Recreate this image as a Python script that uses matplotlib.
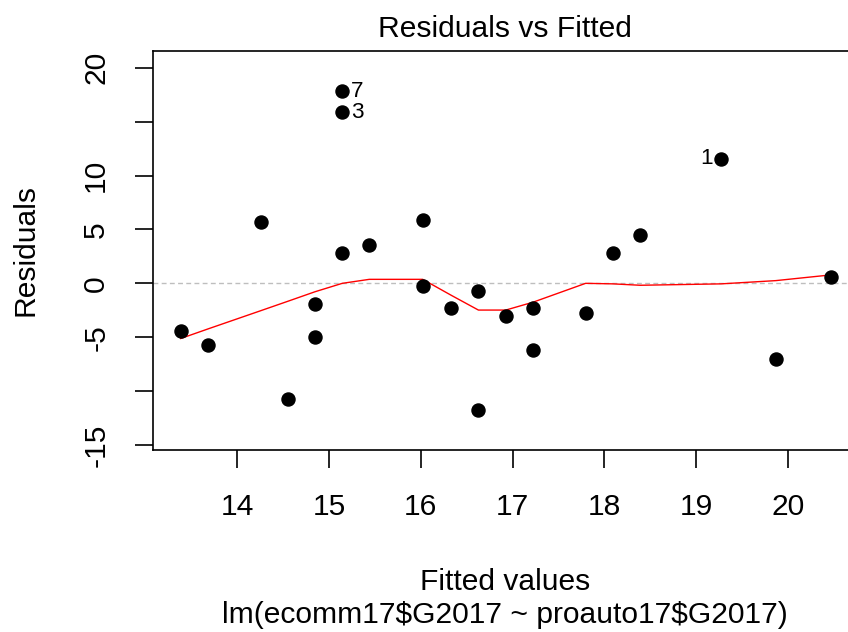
import matplotlib
matplotlib.use("Agg")
import matplotlib.pyplot as plt

plt.rcParams['font.family'] = ['Liberation Sans', 'DejaVu Sans']
plt.rcParams['axes.unicode_minus'] = False

# fitted values and residuals
fitted = [13.383, 13.684, 14.255, 14.549, 14.847, 14.847, 15.144, 15.144,
          15.144, 15.438, 16.020, 16.020, 16.333, 16.627, 16.627, 16.925,
          17.222, 17.222, 17.795, 18.093, 18.390, 19.270, 19.865, 20.465]
resid = [-4.44, -5.74, 5.73, -10.70, -1.95, -5.02, 17.82, 15.87,
         2.85, 3.56, 5.89, -0.22, -2.33, -0.69, -11.79, -3.04,
         -2.33, -6.20, -2.79, 2.85, 4.47, 11.56, -6.98, 0.56]

# smoother (red line) vertices
smooth_x = [13.383, 13.684, 14.255, 14.549, 14.847, 15.144, 15.438, 16.020,
            16.333, 16.627, 16.925, 17.222, 17.795, 18.093, 18.390, 19.270,
            19.865, 20.465]
smooth_y = [-5.12, -4.22, -2.54, -1.67, -0.78, 0.0, 0.37, 0.37,
            -1.12, -2.48, -2.48, -1.75, 0.0, -0.05, -0.18, -0.05,
            0.25, 0.78]

# labelled outliers: (index, label, side)
outliers = [(6, "7", "right"), (7, "3", "right"), (21, "1", "left")]

yticks = [-15, -10, -5, 0, 5, 10, 15, 20]
ytick_labels = ['-15', '', '-5', '0', '5', '10', '', '20']
xticks = [14, 15, 16, 17, 18, 19, 20]

W, H = 848, 632
fig = plt.figure(figsize=(W / 100, H / 100), dpi=100)
fig.patch.set_facecolor('white')

# axes box in pixels (right side runs past the image edge)
left_px, right_px, top_px, bottom_px = 153.3, 857.8, 51, 450
ax = fig.add_axes([left_px / W, 1 - bottom_px / H,
                   (right_px - left_px) / W, (bottom_px - top_px) / H])
ax.set_xlim(13.085, 20.76)
ax.set_ylim(-15.46, 21.55)

ax.axhline(0, color='#BEBEBE', lw=1.0, linestyle=(0, (3.5, 2.4)), zorder=1)
ax.plot(smooth_x, smooth_y, color='red', lw=1.0, zorder=2)
ax.plot(fitted, resid, 'o', color='black', markersize=9.4, zorder=3)

for i, lab, side in outliers:
    dx = 6 if side == "right" else -6
    ax.annotate(lab, (fitted[i], resid[i]), textcoords="offset points",
                xytext=(dx, 0), ha='left' if side == "right" else 'right',
                va='center', fontsize=16.2)

ax.set_xticks(xticks)
ax.set_xticklabels([str(t) for t in xticks])
ax.set_yticks(yticks)
ax.set_yticklabels(ytick_labels, rotation=90, va='center')

ax.tick_params(axis='both', direction='out', length=13, width=1.2,
               labelsize=21.6, pad=18)
for sp in ax.spines.values():
    sp.set_linewidth(1.2)

fig.text(505 / W, 1 - 37 / H, "Residuals vs Fitted", ha='center',
         va='baseline', fontsize=21.6)
fig.text(25 / W, 1 - 250.5 / H, "Residuals", rotation=90, ha='center',
         va='center', fontsize=21.6)
fig.text(505 / W, 1 - 590 / H, "Fitted values", ha='center',
         va='baseline', fontsize=21.6)
fig.text(505 / W, 1 - 623 / H, r"lm(ecomm17\$G2017 ~ proauto17\$G2017)",
         ha='center', va='baseline', fontsize=21.6)

fig.savefig("out.png", dpi=100, facecolor='white')
